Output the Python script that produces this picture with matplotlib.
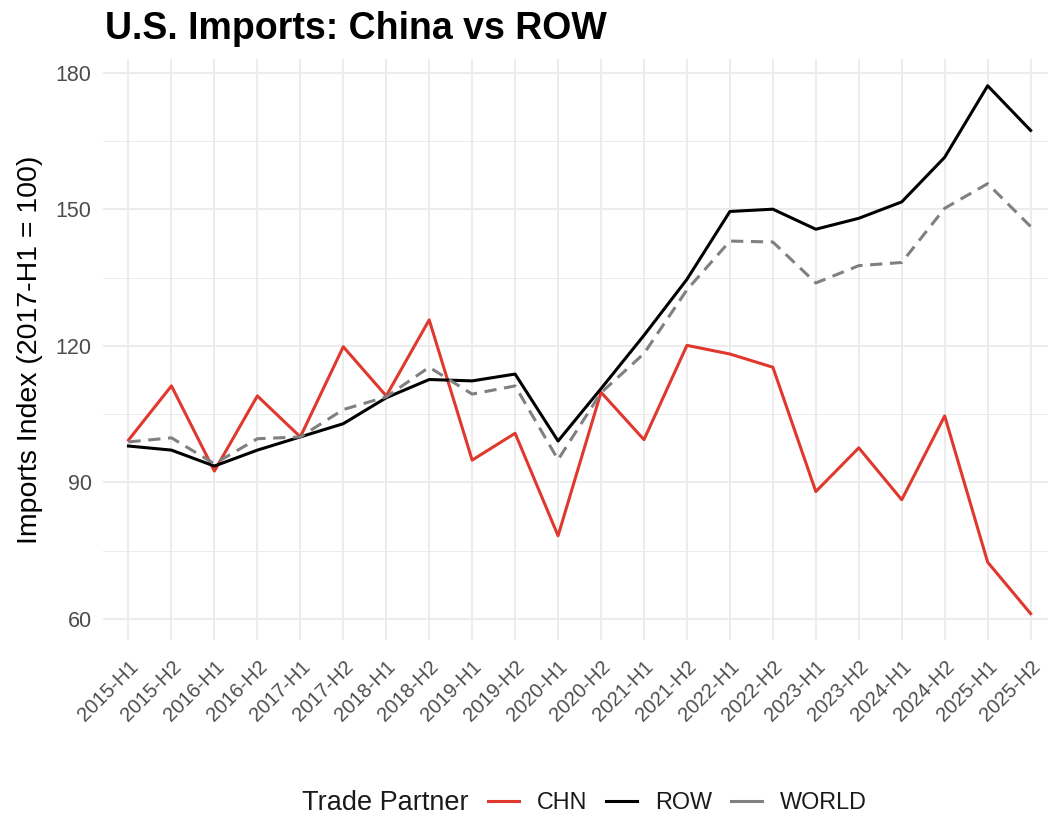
import matplotlib as mpl
import matplotlib.pyplot as plt
from matplotlib.lines import Line2D

mpl.rcParams['font.family'] = ['Liberation Sans', 'DejaVu Sans']

# data
periods = ['2015-H1', '2015-H2', '2016-H1', '2016-H2', '2017-H1', '2017-H2',
           '2018-H1', '2018-H2', '2019-H1', '2019-H2', '2020-H1', '2020-H2',
           '2021-H1', '2021-H2', '2022-H1', '2022-H2', '2023-H1', '2023-H2',
           '2024-H1', '2024-H2', '2025-H1', '2025-H2']

chn = [99.3, 111.2, 92.5, 109.0, 100.0, 119.8, 109.0, 125.7, 94.9, 100.8,
       78.3, 109.8, 99.4, 120.1, 118.2, 115.3, 88.0, 97.6, 86.2, 104.6,
       72.5, 61.2]
row = [98.0, 97.1, 93.6, 97.1, 100.0, 102.9, 108.6, 112.6, 112.3, 113.8,
       99.1, 110.6, 122.3, 134.6, 149.5, 150.0, 145.6, 148.0, 151.6, 161.4,
       177.1, 167.3]
world = [98.9, 99.8, 94.1, 99.6, 100.0, 106.0, 108.8, 115.3, 109.4, 111.2,
         95.0, 109.7, 118.3, 132.3, 143.0, 142.8, 133.8, 137.6, 138.3, 150.2,
         155.6, 146.2]

series_names = ['CHN', 'ROW', 'WORLD']
series_colors = {'CHN': '#E0382D', 'ROW': '#000000', 'WORLD': '#808080'}
series_styles = {'CHN': '-', 'ROW': '-', 'WORLD': (0, (4, 2.5))}

y_ticks = [60, 90, 120, 150, 180]
y_minor = [75, 105, 135, 165]

GRID_COLOR = '#EBEBEB'
TEXT_GRAY = '#4D4D4D'

fig = plt.figure(figsize=(10.48, 8.18), dpi=100)
ax = fig.add_axes([0.098, 0.217, 0.91, 0.711])

x = list(range(len(periods)))
data = {'CHN': chn, 'ROW': row, 'WORLD': world}
for name in series_names:
    ax.plot(x, data[name], color=series_colors[name],
            linestyle=series_styles[name], linewidth=2.2, zorder=3)

ax.set_xlim(-0.6, len(periods) - 0.4)
ax.set_ylim(55.3, 183.0)

ax.set_xticks(x)
ax.set_xticklabels(periods, rotation=45, ha='right', rotation_mode='anchor',
                   fontsize=14.5, color=TEXT_GRAY)
ax.set_yticks(y_ticks)
ax.set_yticks(y_minor, minor=True)
ax.set_yticklabels([str(v) for v in y_ticks], fontsize=15.5, color=TEXT_GRAY)

ax.tick_params(axis='both', which='both', length=0)
ax.tick_params(axis='x', pad=12)
ax.tick_params(axis='y', pad=8)

ax.grid(True, which='major', color=GRID_COLOR, linewidth=1.3, zorder=0)
ax.grid(True, which='minor', axis='y', color=GRID_COLOR, linewidth=0.7, zorder=0)
ax.set_axisbelow(True)
for spine in ax.spines.values():
    spine.set_visible(False)

ax.set_ylabel('Imports Index (2017-H1 = 100)', fontsize=20.5, labelpad=9)

fig.text(0.1, 0.964, 'U.S. Imports: China vs ROW', fontsize=27,
         fontweight='bold', ha='left', va='center')

# legend at bottom: title on the left, entries in one row
fig.text(0.288, 0.018, 'Trade Partner', fontsize=19.5, ha='left', va='center',
         color='#1A1A1A')
handles = [Line2D([0], [0], color=series_colors[n], linestyle='-',
                  linewidth=2.2) for n in series_names]
fig.legend(handles, series_names, loc='center left', bbox_to_anchor=(0.466, 0.019),
           ncol=3, frameon=False, fontsize=16.8, handlelength=1.3,
           handletextpad=0.8, columnspacing=0.8, labelcolor='#1A1A1A',
           borderaxespad=0, borderpad=0)

fig.savefig('out.png', dpi=100)
